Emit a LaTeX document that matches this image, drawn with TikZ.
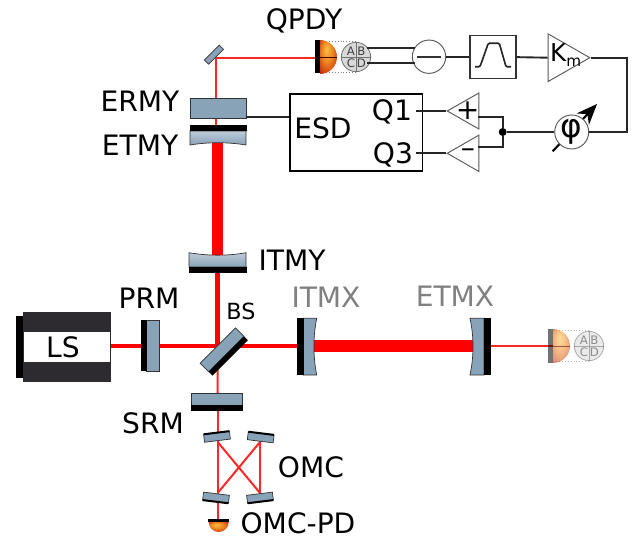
\documentclass[tikz,border=0pt]{standalone}
\usepackage{fontspec}
\setmainfont{DejaVu Sans}
\usetikzlibrary{arrows.meta,shapes.geometric}
\definecolor{glasscol}{HTML}{88A2B8}
\definecolor{lscol}{HTML}{2E2B30}
\pgfdeclareradialshading{pdglow}{\pgfpoint{-6bp}{12bp}}{rgb(0bp)=(.98,.76,.26);rgb(16bp)=(.93,.52,.13);rgb(34bp)=(.78,.18,.06);rgb(50bp)=(.66,.10,.04)}
\tikzset{
  hotbeam/.style={red,line width=9.4pt},
  midbeam/.style={red,line width=3.8pt},
  thinbeam/.style={red!85!white,line width=1.7pt},
  glass/.style={fill=glasscol,draw=black!80,line width=.6pt},
  glassfade/.style={top color=glasscol!55!white,bottom color=glasscol,draw=black!80,line width=.6pt},
  hr/.style={fill=black},
  wire/.style={black!85,line width=1.6pt},
  gain/.style={isosceles triangle,isosceles triangle stretches,draw=black!65,fill=white,line width=.8pt,inner sep=0pt,anchor=apex},
  qdisc/.style={circle,draw=black!55,fill=black!15,line width=.7pt,minimum size=.88cm,inner sep=0pt},
  qletter/.style={font=\fontsize{10}{10}\selectfont,text=black!75,inner sep=0pt},
  lab/.style={font=\fontsize{24}{24}\selectfont,inner sep=0pt},
  farlab/.style={lab,text=black!50},
}
\begin{document}
\begin{tikzpicture}[x=.03cm,y=-.03cm,>=latex]
\useasboundingbox (0,0) rectangle (639,539);

% beams
\coordinate (foldm) at (216,58);
\coordinate (ermyb) at (216,110);
\draw [thinbeam] (216,128)--(ermyb)--(foldm)--(320,58);
\coordinate (etmyb) at (217.5,135);
\coordinate (itmyb) at (217.5,262);
\coordinate (bsc) at (217.5,346);
\draw [hotbeam] (etmyb)--(itmyb);
\draw [midbeam] (itmyb)--(bsc);
\draw [midbeam] (105,346)--(bsc)--(305,346);
\draw [hotbeam] (305,346)--(480,346);
\draw [thinbeam] (487,346)--(553,346);
\draw [thinbeam] (bsc)--(217.7,400);
\coordinate (omca) at (217.7,442);
\coordinate (omcb) at (260,442);
\coordinate (omcc) at (217.7,493);
\coordinate (omcd) at (260,493);
\draw [thinbeam] (217.7,405)--(omca)--(omcc)--(217.7,520);
\draw [thinbeam] (omca)--(omcd)--(omcb)--(omcc);

% small fold mirror
\draw [glass,rotate around={45:(214,54.7)}] (203.5,51.7) rectangle (224.5,57.7);

% y arm mirrors
\draw [glass] (190,98.7) rectangle (246,118.3);
\draw [glassfade] (190,131) -- (246,131) -- (246,145) .. controls (228,142) and (208,142) .. (190,145) -- cycle;
\fill [hr] (189.5,125) rectangle (246.5,131.3);
\draw [glassfade] (189,252.7) .. controls (208,256) and (228,256) .. (246,252.7) -- (246,267) -- (189,267) -- cycle;
\fill [hr] (188.5,266.7) rectangle (246.5,273.3);

% laser
\fill [hr] (16,316) rectangle (23,378.3);
\fill [lscol] (22.7,311.7) rectangle (110.7,382.3);
\node [fill=white,minimum width=2.58cm,minimum height=.88cm,inner sep=0pt,lab] (ls) at (66.7,347) {};
\node [lab] (lslab) at (63,347) {LS};

% central mirrors
\draw [glass] (146,320) rectangle (159,371);
\fill [hr] (140.7,320) rectangle (146.7,371);
\begin{scope}[rotate around={45:(224,351.7)}]
\draw [glass] (199,343) rectangle (249,355);
\fill [hr] (199,355) rectangle (249,360.4);
\end{scope}
\draw [glass] (191.3,393) rectangle (242.3,405.5);
\fill [hr] (191,405) rectangle (242.6,411.3);

% x arm mirrors
\draw [glass] (303,318.3) -- (316.7,318.3) .. controls (313,337) and (313,356) .. (316.7,375) -- (303,375) -- cycle;
\fill [hr] (297,318.3) rectangle (304,375);
\draw [glass] (484,318.3) -- (470,318.3) .. controls (474,337) and (474,356) .. (470,375) -- (484,375) -- cycle;
\fill [hr] (483.7,318.3) rectangle (490.7,375);

% omc mirrors
\foreach \x/\y/\a/\s in {217/436.7/7/-1,260.7/437.3/-7/-1,216/497.7/-7/1,260/497.7/7/1}
{
    \begin{scope}[rotate around={\a:(\x,\y)}]
    \draw [glass] (\x-13,\y-4) rectangle (\x+13,\y+4);
    \fill [hr] (\x-13,\y+\s*3) rectangle (\x+13,\y+\s*5);
    \end{scope}
}

% quadrant photodiodes
\foreach \x/\y/\o/\n in {320/57/1/qpdy,553/346/.55/qpdx}
{
    \begin{scope}[opacity=\o]
    \draw [dotted,black!50,line width=.5pt] (\x,\y-15.5) -- (\x+36,\y-15.5);
    \draw [dotted,black!50,line width=.5pt] (\x,\y+15.5) -- (\x+36,\y+15.5);
    \shade [shading=pdglow] (\x,\y-17) arc (-90:90:17) -- cycle;
    \draw [black!70!red,line width=.6pt] (\x,\y) -- (\x+17,\y);
    \fill [black] (\x-5,\y-16.5) rectangle (\x,\y+16.5);
    \node [qdisc] (\n) at (\x+36,\y) {};
    \draw [black!55,line width=.7pt] (\n.north) -- (\n.south);
    \draw [black!55,line width=.7pt] (\n.west) -- (\n.east);
    \node [qletter] at (\x+31,\y-5.5) {A};
    \node [qletter] at (\x+41.5,\y-5.5) {B};
    \node [qletter] at (\x+31,\y+6) {C};
    \node [qletter] at (\x+41.5,\y+6) {D};
    \end{scope}
}

% omc photodiode
\shade [shading=pdglow] (208.7,522) arc (180:0:10) -- cycle;
\fill [hr] (208,519.3) rectangle (229,522.3);

% electronics
\node [circle,draw=black!65,fill=white,line width=.8pt,minimum size=1cm,inner sep=0pt] (subtr) at (429,56.7) {};
\node [draw=black!80,fill=white,line width=.9pt,minimum width=1.38cm,minimum height=1.3cm,inner sep=0pt] (filt) at (493,56.7) {};
\node [gain,minimum height=1.25cm,minimum width=1.43cm] (km) at (591,57.7) {};
\node [gain,shape border rotate=180,minimum height=.95cm,minimum width=1.08cm] (qplus) at (446,111) {};
\node [gain,shape border rotate=180,minimum height=.95cm,minimum width=1.09cm] (qminus) at (446,153.3) {};
\node [draw=black,line width=1.6pt,minimum width=3.97cm,minimum height=2.31cm,inner sep=0pt] (esd) at (356.3,132.8) {};
\node [circle,fill=black,minimum size=.24cm,inner sep=0pt] (sum) at (502.7,132) {};
\coordinate (pdwa) at (367,47.7);
\coordinate (pdwb) at (367,63.3);
\coordinate (suba) at (415,47.7);
\coordinate (subb) at (415,63.3);
\coordinate (qpin) at (477.7,117.3);
\coordinate (qmin) at (477.7,147);
\coordinate (turn) at (627.3,57.7);
\coordinate (esdq) at (416,111);
\coordinate (esdm) at (416,153.3);
\coordinate (ermyr) at (246,117);
\coordinate (phifrom) at (552.7,151.3);
\coordinate (phito) at (597,104);

\draw [line width=1.8pt,black,-{Stealth[length=.62cm,width=.5cm]}] (phifrom) -- (phito);
\node [circle,draw=black!65,fill=white,line width=.8pt,minimum size=1.02cm,inner sep=0pt] (phi) at (571.7,132) {};

\draw [wire] (pdwa)--(suba);
\draw [wire] (pdwb)--(subb);
\draw [wire] (subtr)--(filt);
\draw [wire] (filt)--(km.lower side);
\draw [wire] (km.apex)--(turn)|-(phi);
\draw [wire] (phi)--(sum);
\draw [wire] (sum)|-(qpin);
\draw [wire] (sum)|-(qmin);
\draw [wire] (qplus.apex)--(esdq);
\draw [wire] (qminus.apex)--(esdm);
\draw [wire] (ermyr)--(esd.west |- ermyr);
\draw [line width=1.4pt,black!85,rounded corners=1pt] (475,66.7)--(480,66.7)--(488.3,43.3)--(499.3,43.3)--(506,66.7)--(511,66.7);
\draw [line width=1.4pt,black!80] (417,56.7)--(441,56.7);

% labels
\node [lab] (qpdylab) at (304,21) {QPDY};
\node [lab] (ermylab) at (140,101) {ERMY};
\node [lab] (etmylab) at (140,145) {ETMY};
\node [lab] (itmylab) at (292,260) {ITMY};
\node [lab] (prmlab) at (149,298) {PRM};
\node [lab,font=\fontsize{19}{19}\selectfont] (bslab) at (241,311) {BS};
\node [farlab] (itmxlab) at (326,297) {ITMX};
\node [farlab] (etmxlab) at (455,296) {ETMX};
\node [lab] (srmlab) at (153,423) {SRM};
\node [lab] (omclab) at (311,467) {OMC};
\node [lab] (omcpdlab) at (298,523) {OMC-PD};
\node [lab] (esdlab) at (323,128) {ESD};
\node [lab] (q1lab) at (392,112) {Q1};
\node [lab] (q3lab) at (393,155) {Q3};
\node [lab,font=\fontsize{21}{21}\selectfont,anchor=base west] (kmlab) at (550,62) {K\raisebox{-.2em}{\fontsize{13}{13}\selectfont m}};
\node [lab] (pluslab) at (467.7,111) {+};
\node [lab] (minuslab) at (468,153.3) {–};
\node [lab,font=\fontsize{28}{28}\selectfont] (philab) at (571.7,132) {φ};

\end{tikzpicture}
\end{document}
